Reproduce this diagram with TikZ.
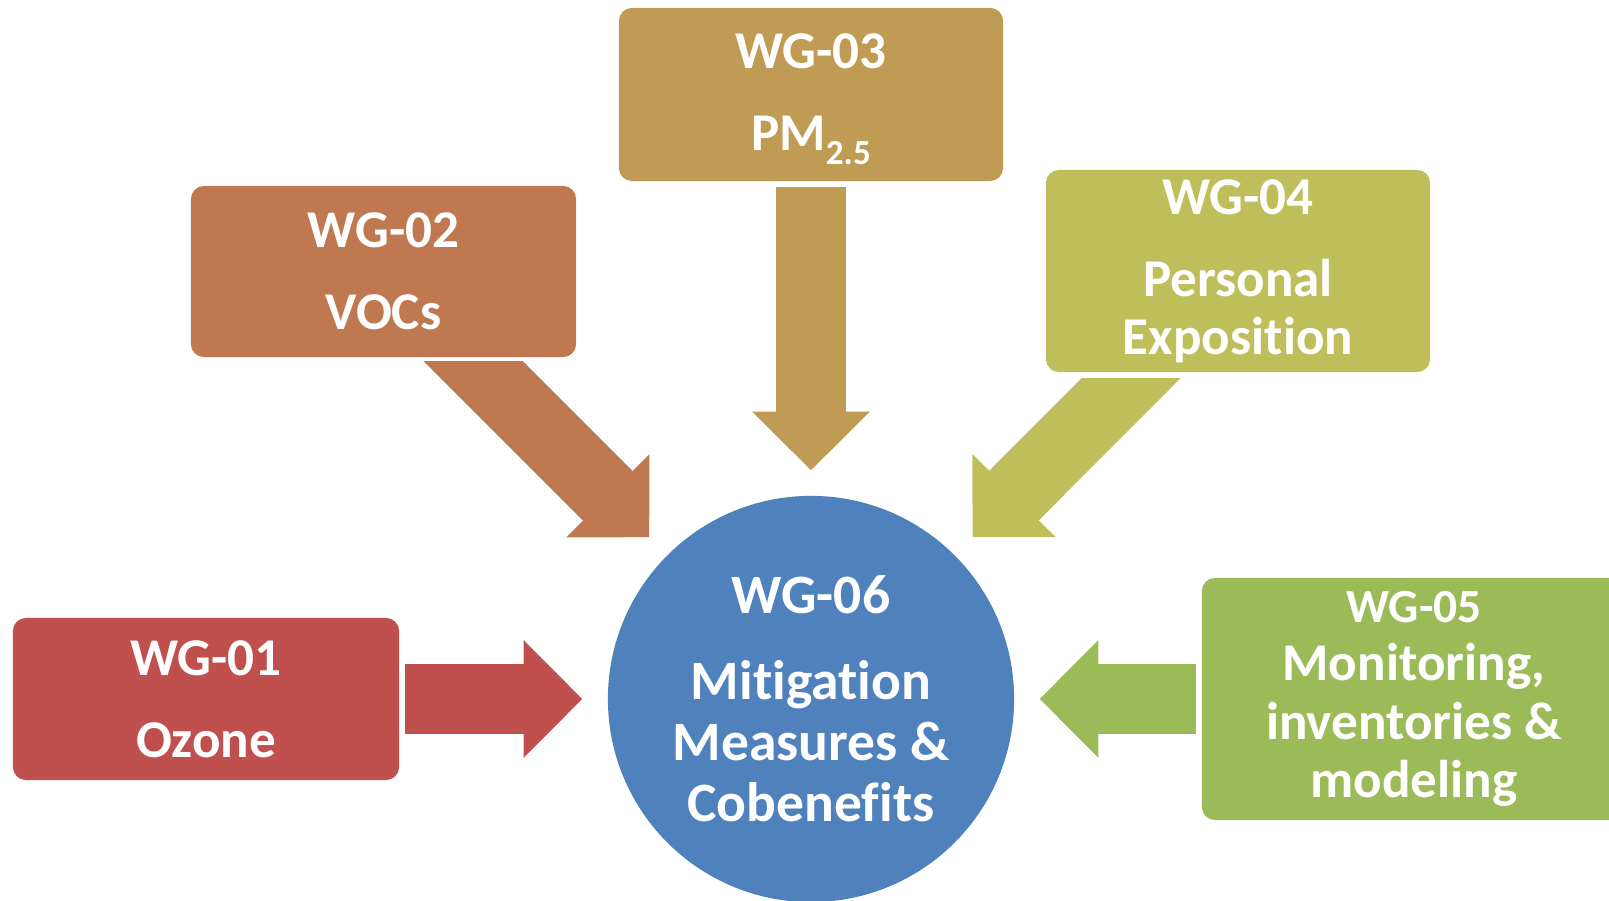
\documentclass[tikz,border=0pt]{standalone}
\usepackage{fontspec}
\setmainfont{Carlito}[Ligatures=NoCommon]
\usetikzlibrary{arrows.meta}

\definecolor{ozonered}{HTML}{C0504D}
\definecolor{vocbrown}{HTML}{C07850}
\definecolor{pmgold}{HTML}{BF9B53}
\definecolor{expolive}{HTML}{BEBE5A}
\definecolor{mongreen}{HTML}{9BBB59}
\definecolor{mitblue}{HTML}{4F81BD}

\tikzstyle{wgbox}=[rounded corners=1.3mm, inner sep=0pt, text=white, align=center, font=\bfseries\fontsize{15.1}{16.6}\selectfont]
\tikzstyle{hub}=[circle, inner sep=0pt, minimum size=40.6mm, fill=mitblue, text=white, align=center, font=\bfseries\fontsize{15.8}{17.35}\selectfont]
\tikzstyle{fatarrow}=[line width=7mm, -{Triangle[length=5.85mm, width=11.7mm, line width=1pt]}, shorten >=2.5mm, shorten <=0.55mm]
\newcommand{\wgsub}[1]{\raisebox{-4pt}[\height][1.1pt]{\fontsize{10}{10}\selectfont #1}}
\newcommand{\smalltext}{\fontsize{13.5}{16.8}\selectfont}

\begin{document}
\begin{tikzpicture}[x=0.01cm, y=-0.01cm]
    \fill[white] (0,0) rectangle (1609,901);
    \useasboundingbox (0,0) rectangle (1609,901);
    % the working groups round the hub
    \node[hub] (wg06) at (811,699) {WG-06\\[7.15pt]Mitigation\\Measures \&\\Cobenefits};
    \foreach \pos/\name/\col/\bw/\bh/\txt in {
        {(206,699)/wg01/ozonered/38.6mm/16.2mm/{WG-01\\[6.7pt]Ozone}},
        {(383.5,271.5)/wg02/vocbrown/38.5mm/17.1mm/{WG-02\\[6.7pt]VOCs}},
        {(811,94.5)/wg03/pmgold/38.4mm/17.3mm/{WG-03\\[6.7pt]PM\wgsub{2.5}}},
        {(1238,271)/wg04/expolive/38.4mm/20.2mm/{WG-04\\[6.7pt]Personal\\Exposition}},
        {(1414,699)/wg05/mongreen/42.4mm/24.2mm/{\smalltext WG-05\\Monitoring,\\inventories \&\\modeling}}}
        \node[wgbox, fill=\col, minimum width=\bw, minimum height=\bh] (\name) at \pos {\txt};
    % straight arrows into the hub
    \foreach \source/\col in {wg01/ozonered, wg03/pmgold, wg05/mongreen}
        \path[fatarrow, draw=\col] (\source) -- (wg06);
    % slanted arrows, tails cut level
    \begin{scope}
        \clip (0,362) rectangle (1609,901);
        \path[fatarrow, draw=vocbrown] (wg02.center) -- (wg06);
    \end{scope}
    \begin{scope}
        \clip (0,379) rectangle (1609,901);
        \path[fatarrow, draw=expolive] (wg04.center) -- (wg06);
    \end{scope}
\end{tikzpicture}
\end{document}
